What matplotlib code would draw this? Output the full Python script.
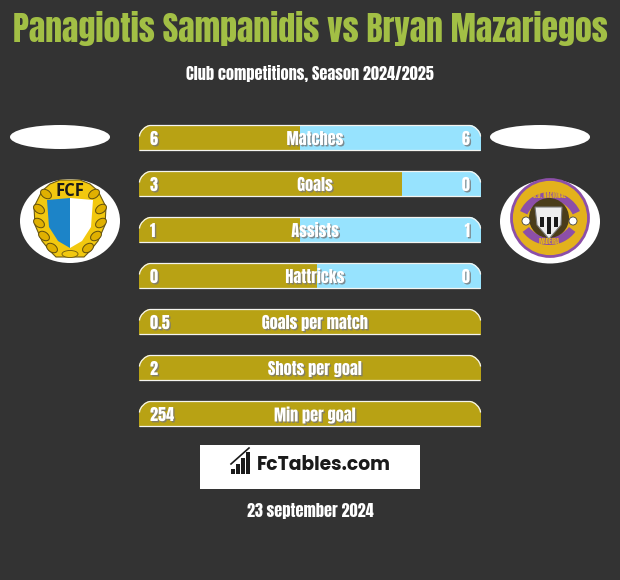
import numpy as np
from matplotlib import pyplot as plt
from matplotlib import patheffects as pe
from matplotlib.patches import Ellipse, Circle, Polygon, Rectangle, PathPatch, Wedge
from matplotlib.path import Path

plt.rcParams['font.family'] = ['Anton', 'Open Sans', 'DejaVu Sans']

title = 'Panagiotis Sampanidis vs Bryan Mazariegos'
subtitle = 'Club competitions, Season 2024/2025'
date_text = '23 september 2024'

stats = ['Matches', 'Goals', 'Assists', 'Hattricks', 'Goals per match', 'Shots per goal', 'Min per goal']
left_labels = ['6', '3', '1', '0', '0.5', '2', '254']
right_labels = ['6', '0', '1', '0', '', '', '']
left_share = [0.47, 0.77, 0.47, 0.52, 1.0, 1.0, 1.0]

bg = '#333333'
gold = '#b8a214'
light_blue = '#97e3fe'
title_color = '#a2bf45'


def rounded_top(x0, x1, y0, y1, r, closed=True):
    """
    Bar outline in pixel coordinates, only the top corners are rounded.
    closed=False leaves out the straight sides, the white edge has none.
    """
    k = 0.45 * r
    arc = [(x0, y0 + r), (x0, y0 + r - k), (x0 + r - k, y0), (x0 + r, y0),
           (x1 - r, y0), (x1 - r + k, y0), (x1, y0 + r - k), (x1, y0 + r)]
    arc_codes = [Path.CURVE4, Path.CURVE4, Path.CURVE4, Path.LINETO, Path.CURVE4, Path.CURVE4, Path.CURVE4]
    if closed:
        return Path([(x0, y1)] + arc + [(x1, y1), (x0, y1)],
                    [Path.MOVETO, Path.LINETO] + arc_codes + [Path.LINETO, Path.CLOSEPOLY])
    return Path(arc + [(x0, y1), (x1, y1)], [Path.MOVETO] + arc_codes + [Path.MOVETO, Path.LINETO])


def bar_text(ax, x, y, s, ha):
    ax.text(x, y, s, color='white', fontsize=11.7, ha=ha, va='center', zorder=5,
            path_effects=[pe.withSimplePatchShadow(offset=(1, -1), shadow_rgbFace='#777777', alpha=0.8)])


def draw_fcf_crest(ax, cx, cy):
    ax.add_patch(Ellipse((cx, cy), 100, 84, fc='white', ec='none', zorder=2))
    wreath = [(-28, -30), (-20, -37), (-10, -41), (10, -41), (20, -37), (28, -30), (36, -14), (35, 4),
              (28, 20), (20, 30), (14, 36), (-14, 36), (-20, 30), (-28, 20), (-35, 4), (-36, -14)]
    ax.add_patch(Polygon([(cx + a, cy + b) for a, b in wreath], fc='#f2c80f', ec='#6d5a10', lw=0.8, zorder=3))
    for a, b in [(-31, -12), (-31, 2), (-26, 15), (-18, 27), (31, -12), (31, 2), (26, 15), (18, 27), (-24, -27), (24, -27)]:
        ax.add_patch(Ellipse((cx + a, cy + b), 12, 8, angle=35 if a < 0 else -35, fc='#e0b000', ec='#5f4e10', lw=0.7, zorder=3))
    ax.text(cx, cy - 30, 'FCF', color='#1a1a1a', fontsize=12, fontweight='bold', ha='center', va='center', zorder=5,
            family=['Open Sans', 'DejaVu Sans'])
    blue = [(-23, -21), (0, -23), (0, 27), (-12, 20), (-21, 6)]
    white = [(0, -23), (23, -21), (21, 6), (12, 20), (0, 27)]
    ax.add_patch(Polygon([(cx + a, cy + b) for a, b in blue], fc='#1c84c8', ec='none', zorder=4))
    ax.add_patch(Polygon([(cx + a, cy + b) for a, b in white], fc='white', ec='none', zorder=4))
    ax.add_patch(Ellipse((cx, cy + 33), 16, 7, fc='#f2c80f', ec='#6d5a10', lw=0.6, zorder=5))


def draw_nacional_crest(ax, cx, cy):
    ax.add_patch(Ellipse((cx, cy + 0.5), 100, 84, fc='white', ec='none', zorder=2))
    ax.add_patch(Circle((cx, cy - 3), 38.5, fc='#e3b21c', ec='#8c4fa8', lw=2, zorder=3))
    ax.add_patch(Wedge((cx, cy + 4), 33, 205, 335, width=8, fc='#8c4fa8', ec='none', zorder=4))
    ax.add_patch(Wedge((cx - 1, cy - 9), 33, 37, 143, width=8, fc='#8c4fa8', ec='none', zorder=4))
    ax.add_patch(Circle((cx - 1, cy - 3), 20, fc='#4a3d1a', ec='none', zorder=4))
    shield = [(-15, -14), (12, -14), (11, 4), (-1, 18), (-13, 4)]
    ax.add_patch(Polygon([(cx + a, cy + b) for a, b in shield], fc='#eeeeee', ec='#777777', lw=0.8, zorder=5))
    for a in (-8, -1, 6):
        ax.add_patch(Rectangle((cx + a - 1.7, cy - 4), 3.4, 17 - abs(a + 1), fc='#1a1a1a', ec='none', zorder=6))
    for a in (-24, 23):
        ax.add_patch(Circle((cx + a, cy), 4, fc='white', ec='#444444', lw=0.6, zorder=5))
    ax.text(cx - 1, cy - 26, 'C.D. NACIONAL', color='#e3b21c', fontsize=4.5, ha='center', va='center', zorder=6)
    ax.text(cx - 1, cy + 20, 'MADEIRA', color='#e3b21c', fontsize=4.5, ha='center', va='center', zorder=6)


fig = plt.figure(figsize=(6.2, 5.8), dpi=100, facecolor=bg)

# full figure axes in pixel coordinates, for everything that is not a bar
canvas = fig.add_axes([0, 0, 1, 1])
canvas.set_xlim(0, 620)
canvas.set_ylim(580, 0)
canvas.axis('off')

# bar axes: one category per 46 px, x runs over the share of the bar
bar_ax = fig.add_axes([139 / 620, (580 - 437) / 580, 342 / 620, 322 / 580])
bar_ax.set_xlim(0, 1)
bar_ax.set_ylim(6.5, -0.5)
bar_ax.axis('off')
bar_ax.patch.set_alpha(0)

y_pos = np.arange(len(stats))
bar_height = 26 / 46
right_share = [1 - s for s in left_share]
left_bars = bar_ax.barh(y_pos, left_share, height=bar_height, color=gold, zorder=2)
right_bars = bar_ax.barh(y_pos, right_share, left=left_share, height=bar_height, color=light_blue, zorder=2)

for i, name in enumerate(stats):
    top = 125 + 46 * i
    outline = rounded_top(139, 481, top, top + 26, 11)
    for bar in (left_bars[i], right_bars[i]):
        bar.set_clip_path(outline, canvas.transData)
    edge = rounded_top(139.5, 480.5, top + 0.5, top + 25.5, 11, closed=False)
    bar_ax.add_patch(PathPatch(edge, transform=canvas.transData, fc='none', ec='#f4f4f0', lw=0.9, zorder=3, clip_on=False))

    bar_text(bar_ax, 0.5 + 5 / 342, i + 1 / 46, name, 'center')
    bar_text(bar_ax, 11 / 342, i + 1 / 46, left_labels[i], 'left')
    if right_labels[i]:
        bar_text(bar_ax, 1 - 11 / 342, i + 1 / 46, right_labels[i], 'right')

canvas.text(310, 28, title, color=title_color, fontsize=24.3, ha='center', va='center')
canvas.text(310, 74, subtitle, color='white', fontsize=11.7, ha='center', va='center')
canvas.text(310, 511, date_text, color='white', fontsize=11.7, ha='center', va='center')

# plain white ellipses above the crests
canvas.add_patch(Ellipse((60, 137), 100, 24, fc='white', ec='none'))
canvas.add_patch(Ellipse((540, 137), 100, 24, fc='white', ec='none'))
draw_fcf_crest(canvas, 70, 221)
draw_nacional_crest(canvas, 550, 221)

# FcTables logo
canvas.add_patch(Rectangle((200, 445), 220, 44, fc='white', ec='none'))
for x, h in zip([231, 236, 241, 246], [5, 10, 16, 22]):
    canvas.add_patch(Rectangle((x, 474 - h), 4, h, fc='#1a1a1a', ec='none'))
canvas.plot([231, 249], [464, 448], color='#1a1a1a', lw=1.2)
canvas.text(257, 465, 'FcTables.com', color='#1a1a1a', fontsize=13.5, fontweight='bold', ha='left', va='center',
            family=['Poppins', 'DejaVu Sans'])

fig.savefig('out.png', dpi=100, facecolor=bg)
